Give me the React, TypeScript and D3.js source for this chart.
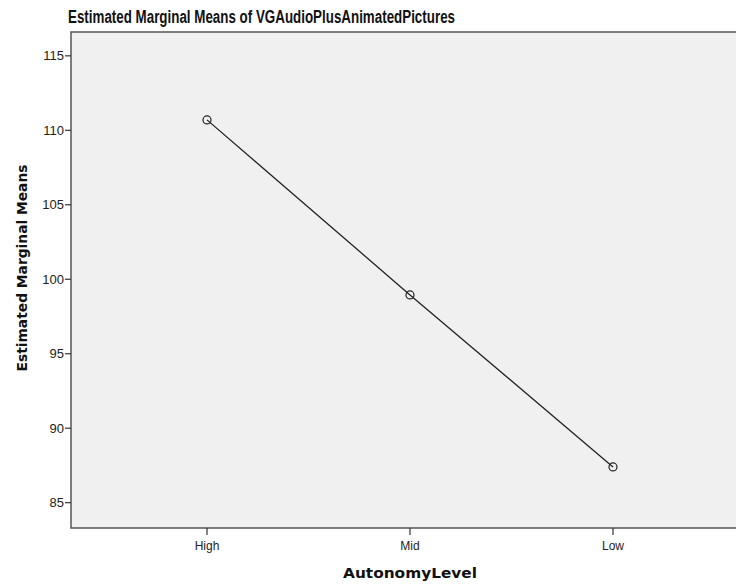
import React from "react";
import * as d3 from "d3";

const categories = ["High", "Mid", "Low"];
const means = [110.7, 98.95, 87.4];
const yTicks = [85, 90, 95, 100, 105, 110, 115];

const W = 736, H = 584;
const left = 71, right = 749, top = 32, bottom = 528;

export default function App() {
  const x = d3.scalePoint<string>().domain(categories).range([left, right]).padding(0.67);
  const y = d3.scaleLinear().domain([83.3, 116.6]).range([bottom, top]);
  const line = d3.line<number>().x((_, i) => x(categories[i])!).y((d) => y(d));
  const font = "'Liberation Sans', Arial, sans-serif";
  const labelFont = "'DejaVu Sans', 'Liberation Sans', sans-serif";
  return (
    <svg width={W} height={H} style={{ position: "absolute", left: 0, top: 0 }} fontFamily={font}>
      <rect x={0} y={0} width={W} height={H} fill="#fff" />
      <text x={68} y={23} fontSize={18} fontWeight="bold" fill="#111" textLength={387} lengthAdjust="spacingAndGlyphs">
        Estimated Marginal Means of VGAudioPlusAnimatedPictures
      </text>
      <rect x={left} y={top} width={right - left} height={bottom - top} fill="#f0f0f0" stroke="#555" strokeWidth={1.5} />
      {yTicks.map((t) => (
        <g key={t}>
          <line x1={left - 6} x2={left} y1={y(t)} y2={y(t)} stroke="#333" strokeWidth={1.2} />
          <text x={left - 7} y={y(t)} dy="0.35em" textAnchor="end" fontSize={13} fill="#222">{t}</text>
        </g>
      ))}
      {categories.map((c) => (
        <g key={c}>
          <line x1={x(c)} x2={x(c)} y1={bottom} y2={bottom + 7} stroke="#333" strokeWidth={1.2} />
          <text x={x(c)} y={bottom + 22} textAnchor="middle" fontSize={12} fill="#222">{c}</text>
        </g>
      ))}
      <path d={line(means)!} fill="none" stroke="#222" strokeWidth={1.3} />
      {means.map((m, i) => (
        <circle key={i} cx={x(categories[i])} cy={y(m)} r={4} fill="none" stroke="#222" strokeWidth={1.2} />
      ))}
      <text x={410} y={578} textAnchor="middle" fontFamily={labelFont} fontSize={14.5} fontWeight="bold" fill="#111" textLength={134} lengthAdjust="spacingAndGlyphs">AutonomyLevel</text>
      <text transform={`translate(27,268) rotate(-90)`} textAnchor="middle" fontFamily={labelFont} fontSize={14.5} fontWeight="bold" fill="#111" textLength={207} lengthAdjust="spacingAndGlyphs">
        Estimated Marginal Means
      </text>
    </svg>
  );
}
